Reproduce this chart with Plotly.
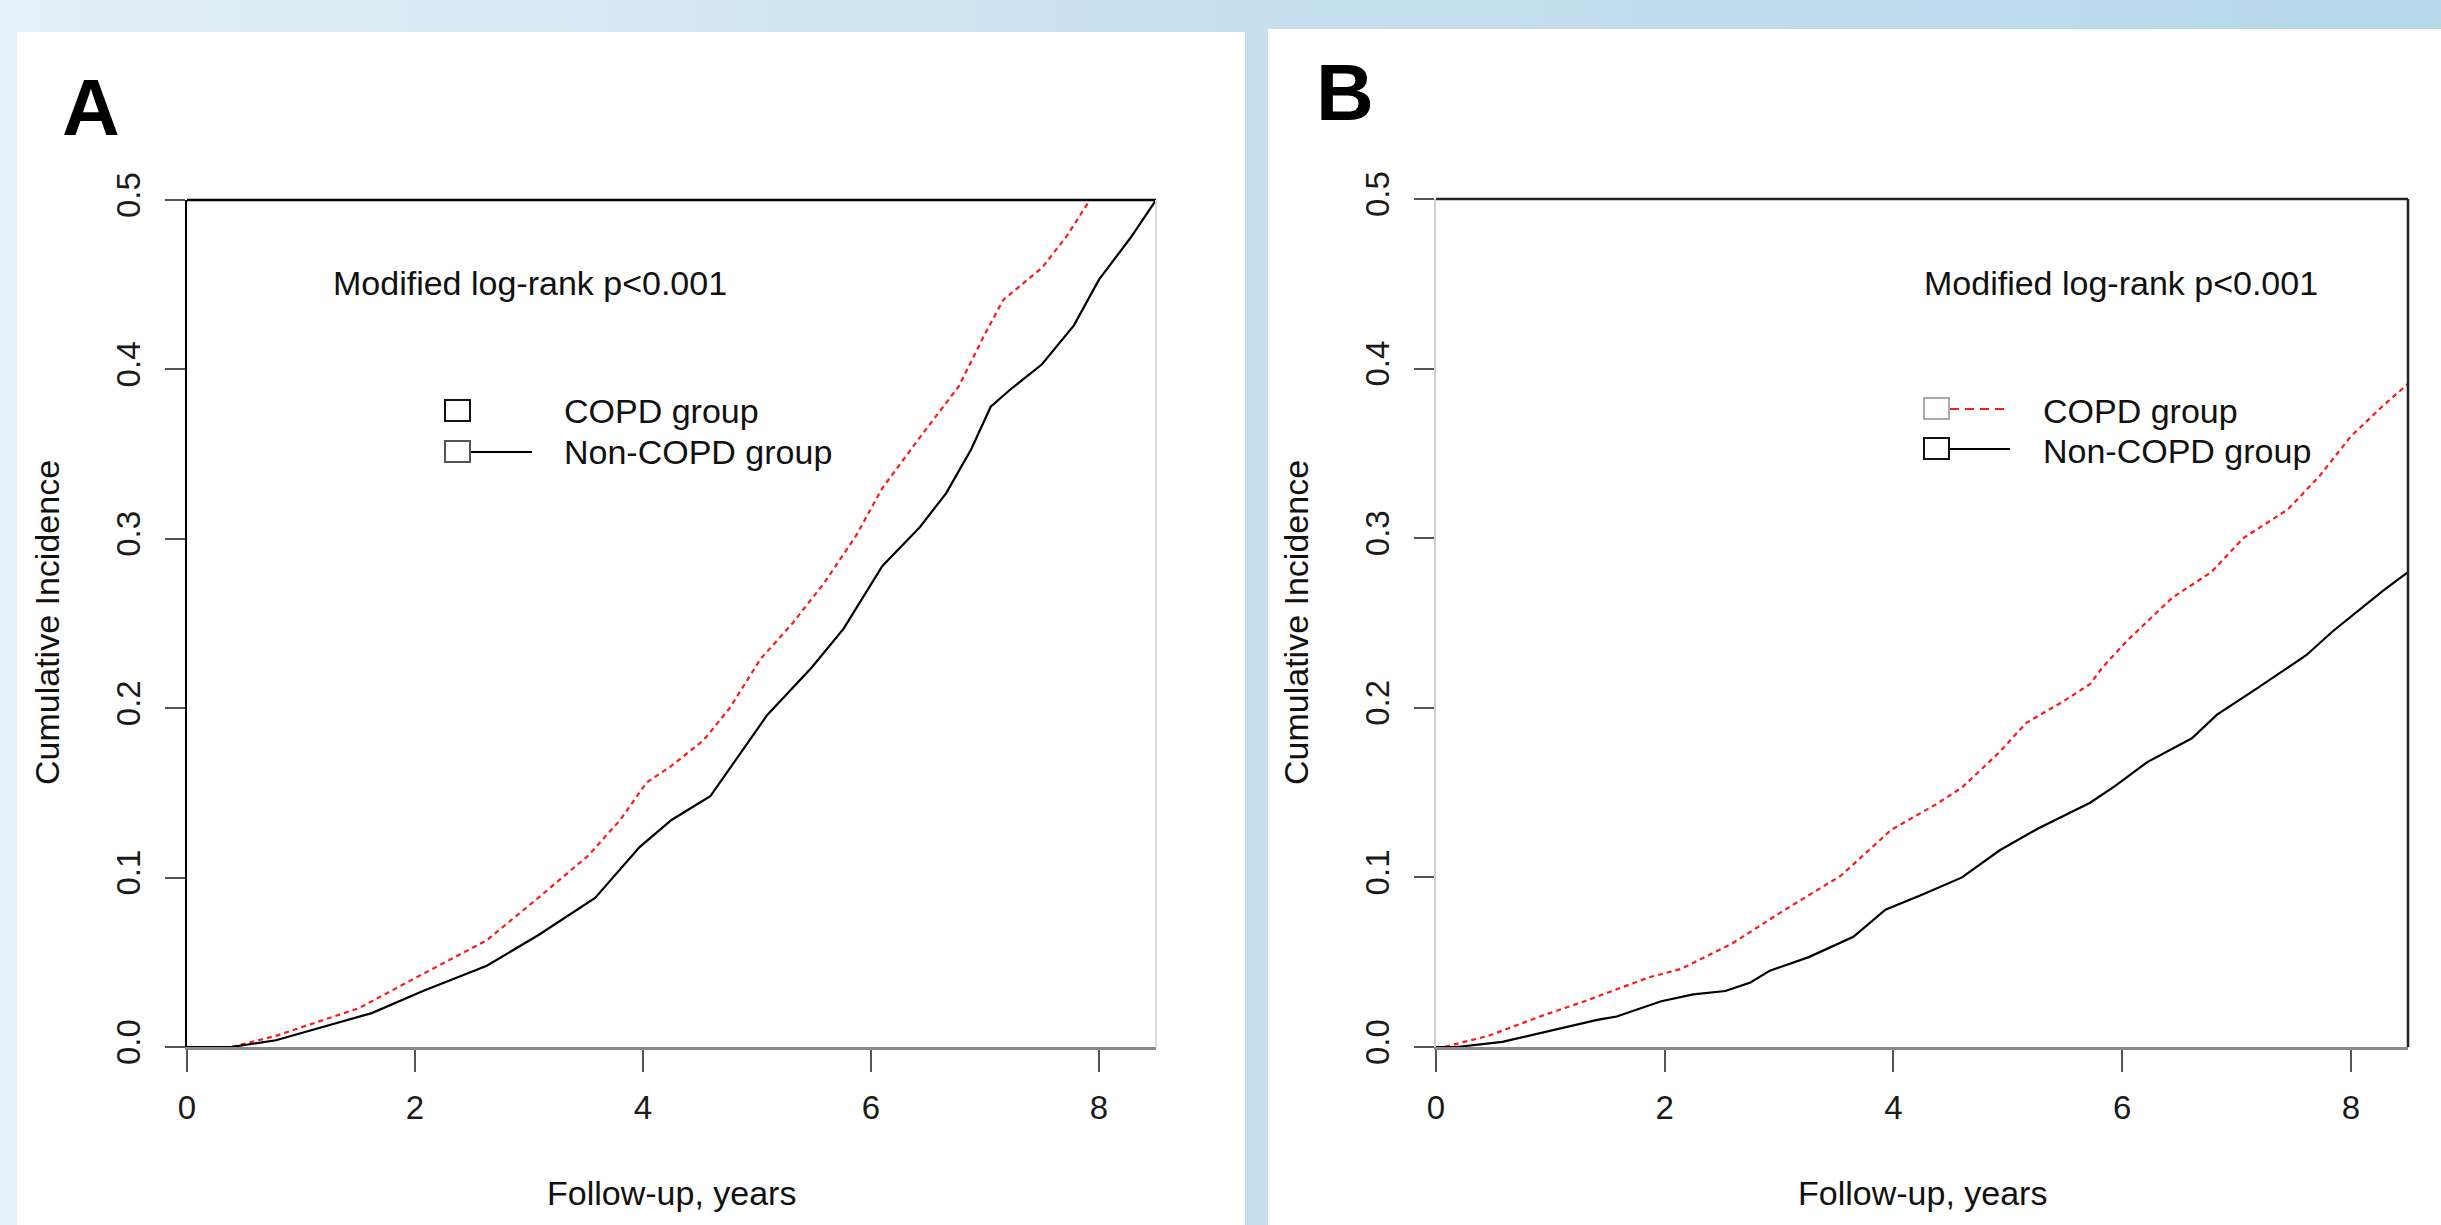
import plotly.graph_objects as go

W, H = 2441, 1225

# ---------------- data ----------------
a_copd_t = [0, 0.39, 0.78, 1.51, 2.01, 2.63, 3.08, 3.52, 3.8, 4.03, 4.25, 4.53, 4.76, 5.03, 5.31,
            5.59, 5.87, 6.1, 6.43, 6.77, 7.0, 7.16, 7.5, 7.72, 7.92]
a_copd_y = [0, 0, 0.0066, 0.023, 0.041, 0.063, 0.088, 0.113, 0.134, 0.156, 0.166, 0.181, 0.2, 0.229,
            0.25, 0.274, 0.302, 0.33, 0.36, 0.39, 0.421, 0.441, 0.46, 0.479, 0.5]
a_non_t = [0, 0.39, 0.78, 1.45, 1.62, 2.07, 2.63, 3.08, 3.58, 3.97, 4.25, 4.59, 4.81, 5.09, 5.48,
           5.76, 6.1, 6.43, 6.66, 6.88, 7.05, 7.22, 7.5, 7.78, 8.0, 8.28, 8.5]
a_non_y = [0, 0, 0.004, 0.017, 0.02, 0.033, 0.048, 0.066, 0.088, 0.118, 0.134, 0.148, 0.169, 0.196,
           0.224, 0.247, 0.284, 0.307, 0.327, 0.353, 0.378, 0.388, 0.403, 0.426, 0.453, 0.478, 0.5]

b_copd_t = [0, 0.07, 0.46, 0.91, 1.3, 1.86, 2.14, 2.59, 3.03, 3.54, 3.98, 4.37, 4.6, 4.93, 5.16,
            5.49, 5.72, 5.83, 6.05, 6.44, 6.78, 7.06, 7.45, 7.73, 8.0, 8.28, 8.5]
b_copd_y = [0, 0, 0.0066, 0.018, 0.027, 0.041, 0.046, 0.061, 0.080, 0.101, 0.128, 0.143, 0.153,
            0.174, 0.191, 0.204, 0.214, 0.224, 0.240, 0.265, 0.280, 0.300, 0.317, 0.337, 0.36,
            0.378, 0.391]
b_non_t = [0, 0.18, 0.58, 1.02, 1.41, 1.58, 1.97, 2.25, 2.53, 2.75, 2.92, 3.26, 3.65, 3.93, 4.26,
           4.6, 4.93, 5.27, 5.72, 5.94, 6.22, 6.61, 6.83, 7.17, 7.61, 7.84, 8.06, 8.28, 8.5]
b_non_y = [0, 0, 0.003, 0.01, 0.016, 0.018, 0.027, 0.031, 0.033, 0.038, 0.045, 0.053, 0.065,
           0.081, 0.090, 0.1, 0.116, 0.129, 0.144, 0.154, 0.168, 0.182, 0.196, 0.211, 0.231,
           0.245, 0.257, 0.269, 0.280]

x_ticks = [0, 2, 4, 6, 8]
x_ticktext = ["0", "2", "4", "6", "8"]
y_ticks = [0, 0.1, 0.2, 0.3, 0.4, 0.5]
y_ticktext = ["0.0", "0.1", "0.2", "0.3", "0.4", "0.5"]

panel_labels = ["A", "B"]
series_names = ["COPD group", "Non-COPD group"]
stat_text = "Modified log-rank p<0.001"
x_title = "Follow-up, years"
y_title = "Cumulative Incidence"

# ---------------- helpers ----------------
def px(x):
    return x / W

def py(y):
    return 1 - y / H

FONT = "Liberation Sans, Arial, sans-serif"
RED = "#ff1a1a"
DASH = "5px,4px"

fig = go.Figure()

fig.add_trace(go.Scatter(x=a_copd_t, y=a_copd_y, mode="lines", name=series_names[0],
                         line=dict(color=RED, width=2.2, dash=DASH),
                         xaxis="x", yaxis="y", showlegend=False))
fig.add_trace(go.Scatter(x=a_non_t, y=a_non_y, mode="lines", name=series_names[1],
                         line=dict(color="black", width=2.2),
                         xaxis="x", yaxis="y", showlegend=False))
fig.add_trace(go.Scatter(x=b_copd_t, y=b_copd_y, mode="lines", name=series_names[0],
                         line=dict(color=RED, width=2.2, dash=DASH),
                         xaxis="x2", yaxis="y2", showlegend=False))
fig.add_trace(go.Scatter(x=b_non_t, y=b_non_y, mode="lines", name=series_names[1],
                         line=dict(color="black", width=2.2),
                         xaxis="x2", yaxis="y2", showlegend=False))

# plot area pixel boxes (left, right, top, bottom)
A_box = (187, 1156, 200, 1047)
B_box = (1436, 2408, 199, 1047)

def xaxis_cfg(box, anchor):
    return dict(domain=[px(box[0]), px(box[1])], range=[0, 8.5], anchor=anchor, automargin=False,
                tickvals=x_ticks, ticktext=x_ticktext, ticks="outside", ticklen=22,
                tickwidth=2, tickcolor="#555", showline=True, linecolor="#8a8a8a",
                linewidth=3, showgrid=False, zeroline=False, fixedrange=True,
                tickfont=dict(family=FONT, size=33, color="#1a1a1a"), ticklabelstandoff=7)

def yaxis_cfg(box, anchor, linecolor):
    return dict(domain=[py(box[3]), py(box[2])], range=[0, 0.5], anchor=anchor, automargin=False,
                tickvals=y_ticks, ticktext=y_ticktext, ticks="outside", ticklen=20,
                tickwidth=2, tickcolor="#555", showline=True, linecolor=linecolor,
                linewidth=2, showgrid=False, zeroline=False, tickangle=-90, fixedrange=True,
                tickfont=dict(family=FONT, size=33, color="#1a1a1a"), ticklabelstandoff=12)

shapes = []
# background gradient stripes
n = 60
c0 = (228, 240, 247)
c1 = (200, 224, 239)
c2 = (183, 217, 235)
for i in range(n):
    f = i / (n - 1)
    if f < 0.5:
        g = f / 0.5
        c = tuple(int(c0[k] + (c1[k] - c0[k]) * g) for k in range(3))
    else:
        g = (f - 0.5) / 0.5
        c = tuple(int(c1[k] + (c2[k] - c1[k]) * g) for k in range(3))
    shapes.append(dict(type="rect", xref="paper", yref="paper", x0=i / n, x1=min(1, (i + 1) / n + 0.001),
                       y0=0, y1=1, fillcolor="rgb(%d,%d,%d)" % c, line=dict(width=0), layer="below"))
# white panels
shapes.append(dict(type="rect", xref="paper", yref="paper", x0=px(17), x1=px(1245), y0=0, y1=py(32),
                   fillcolor="white", line=dict(width=0), layer="below"))
shapes.append(dict(type="rect", xref="paper", yref="paper", x0=px(1268), x1=1, y0=0, y1=py(29),
                   fillcolor="white", line=dict(width=0), layer="below"))

# box lines
shapes.append(dict(type="line", xref="x domain", yref="y domain", x0=0, x1=1, y0=1, y1=1,
                   line=dict(color="black", width=2.5)))
shapes.append(dict(type="line", xref="x domain", yref="y domain", x0=1, x1=1, y0=0, y1=1,
                   line=dict(color="#dcdcdc", width=2)))
shapes.append(dict(type="line", xref="x2 domain", yref="y2 domain", x0=0, x1=1, y0=1, y1=1,
                   line=dict(color="#222", width=2.5)))
shapes.append(dict(type="line", xref="x2 domain", yref="y2 domain", x0=1, x1=1, y0=0, y1=1,
                   line=dict(color="#222", width=2.5)))

# legend keys
def square(x0, y0, color):
    shapes.append(dict(type="rect", xref="paper", yref="paper", x0=px(x0), x1=px(x0 + 25),
                       y0=py(y0 + 21), y1=py(y0), line=dict(color=color, width=2), fillcolor="white"))

def hline(x0, x1, y, color, dash=None):
    ln = dict(color=color, width=2.2)
    if dash:
        ln["dash"] = dash
    shapes.append(dict(type="line", xref="paper", yref="paper", x0=px(x0), x1=px(x1), y0=py(y), y1=py(y),
                       line=ln))

# Panel A legend (COPD key shows only the box, as in the source)
hline(470, 532, 452, "black")
square(445, 400, "#111")
square(445, 441, "#555")
# Panel B legend
hline(1950, 2008, 409, RED, "9px,6px")
hline(1950, 2010, 449, "black")
square(1924, 398, "#aaa")
square(1924, 438, "#111")

annotations = []

def text(x, y, s, size=34, xanchor="left", angle=0, bold=False, color="#111"):
    annotations.append(dict(x=px(x), y=py(y), xref="paper", yref="paper", text=("<b>%s</b>" % s) if bold else s,
                            showarrow=False, xanchor=xanchor, yanchor="middle", textangle=angle,
                            font=dict(family=FONT, size=size, color=color)))

text(91, 108, panel_labels[0], size=80, xanchor="center", bold=True, color="black")
text(1345, 92, panel_labels[1], size=80, xanchor="center", bold=True, color="black")

text(331, 283, stat_text)
text(1922, 283, stat_text)
text(562, 411, series_names[0])
text(562, 452, series_names[1])
text(2041, 411, series_names[0])
text(2041, 451, series_names[1])

text(671, 1193, x_title, xanchor="center")
text(1922, 1193, x_title, xanchor="center")
text(47, 623, y_title, xanchor="center", angle=-90)
text(1296, 623, y_title, xanchor="center", angle=-90)

fig.update_layout(
    template="none",
    width=W, height=H, autosize=False,
    margin=dict(l=0, r=0, t=0, b=0, pad=0, autoexpand=False),
    paper_bgcolor="rgb(205,228,241)",
    plot_bgcolor="rgba(0,0,0,0)",
    showlegend=False,
    xaxis=xaxis_cfg(A_box, "y"),
    yaxis=yaxis_cfg(A_box, "x", "black"),
    xaxis2=xaxis_cfg(B_box, "y2"),
    yaxis2=yaxis_cfg(B_box, "x2", "#cfcfcf"),
    shapes=shapes,
    annotations=annotations,
)

fig.write_html(
    "out.html",
    config={"displayModeBar": False},
    post_script="document.body.style.margin='0';document.body.style.padding='0';"
                "document.documentElement.style.overflow='hidden';document.body.style.overflow='hidden';",
)
